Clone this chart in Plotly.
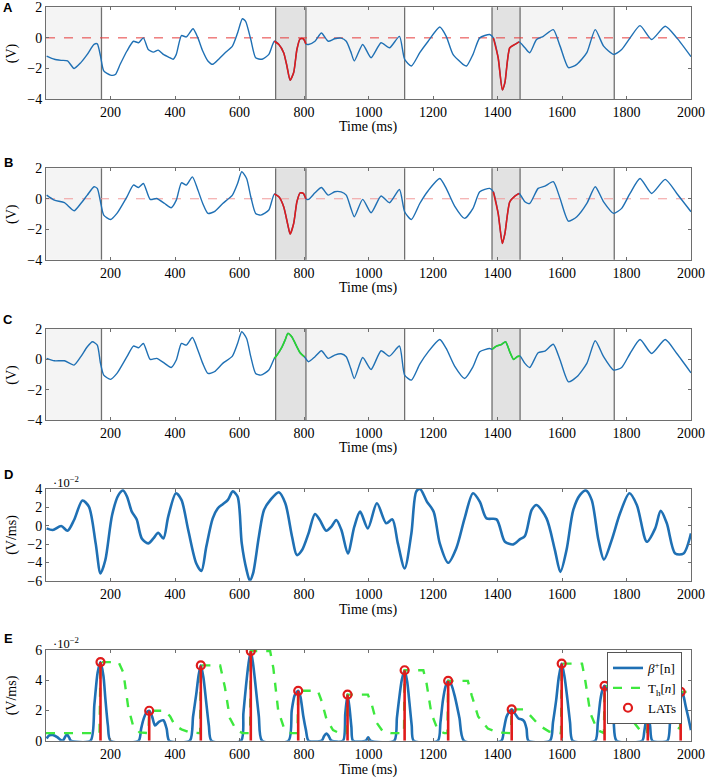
import plotly.graph_objects as go

# ------------------------------------------------------------------ data
seg_bounds = [172, 712, 806, 1112, 1383, 1470, 1762]
light_regions = [(0, 172), (806, 1112), (1470, 1762)]
window_regions = [(712, 806), (1383, 1470)]

tA = [2, 26, 47, 67, 87, 108, 128, 149, 159, 169, 179, 200, 215, 230, 251, 271, 287, 302, 317, 333,
      348, 364, 384, 394, 404, 420, 435, 456, 471, 486, 502, 517, 537, 558, 578, 594, 609, 619, 635,
      650, 670, 691, 708, 722, 737, 747, 757, 768, 778, 788, 798, 806, 814, 834, 854, 875, 895, 915,
      931, 945, 956, 982, 1008, 1039, 1065, 1096, 1112, 1133, 1159, 1185, 1221, 1241, 1262, 1293,
      1304, 1324, 1345, 1376, 1387, 1402, 1415, 1423, 1438, 1454, 1467, 1485, 1500, 1521, 1542,
      1573, 1594, 1620, 1646, 1677, 1703, 1729, 1760, 1785, 1811, 1842, 1878, 1920, 1956, 2000]
vA = [-1.19, -1.4, -1.47, -1.51, -2.0, -1.62, -1.08, -0.43, -0.39, -1.19, -2.16, -2.44, -2.4, -1.73,
      -0.86, -0.22, -0.32, 0.0, -0.76, -0.93, -0.8, -1.08, -1.3, -1.4, -1.08, 0.15, 0.06, 0.6, 0.0,
      -0.86, -1.51, -1.73, -1.36, -0.93, -0.54, 0.32, 1.25, 1.08, -0.11, -1.3, -1.4, -1.08, -0.22,
      -0.43, -0.97, -1.84, -2.77, -2.27, -0.76, -0.06, -0.06, -0.4, -0.43, -0.22, 0.32, -0.22, -0.06,
      -0.02, -0.22, -0.9, -1.51, -0.43, -1.3, -0.32, -0.65, 0.1, -1.4, -1.84, -0.97, -0.22, 0.71, 0.1,
      -1.08, -1.73, -1.84, -1.08, 0.0, 0.22, 0.0, -1.3, -3.4, -2.92, -0.65, -0.43, -0.26, -0.65, -0.97,
      -0.11, 0.1, 0.54, -0.54, -1.95, -1.73, -0.97, 0.54, -0.54, -1.08, -0.76, 0.0, 0.8, -0.11, 0.76,
      0.0, -1.23]

tB = [2, 26, 57, 87, 108, 128, 149, 159, 169, 179, 200, 220, 251, 271, 287, 302, 323, 343, 368, 388,
      404, 420, 435, 454, 471, 486, 502, 522, 548, 578, 594, 607, 622, 635, 650, 666, 691, 708, 722,
      737, 750, 757, 768, 778, 788, 798, 806, 814, 834, 854, 875, 895, 915, 931, 945, 956, 982, 1008,
      1039, 1065, 1096, 1112, 1133, 1159, 1185, 1221, 1241, 1267, 1298, 1324, 1345, 1376, 1387, 1402,
      1415, 1423, 1438, 1454, 1467, 1485, 1500, 1526, 1547, 1573, 1594, 1620, 1646, 1677, 1703, 1729,
      1760, 1785, 1811, 1842, 1878, 1920, 1956, 2000]
vB = [0.24, -0.09, -0.26, -0.79, -0.31, 0.24, 0.79, 0.68, -0.2, -1.07, -1.36, -0.96, 0.13, 0.9, 0.74,
      1.0, -0.04, 0.02, -0.31, -0.59, -0.09, 1.05, 0.9, 1.44, 0.57, -0.31, -0.96, -0.85, -0.31, 0.24,
      1.0, 1.77, 1.33, 0.13, -0.96, -1.07, -0.74, 0.31, 0.13, -0.52, -1.73, -2.32, -1.62, -0.2, 0.39,
      0.35, 0.0, -0.04, 0.39, 0.74, 0.24, 0.46, 0.45, 0.24, -0.6, -1.18, -0.04, -0.92, 0.18, -0.26,
      0.61, -0.85, -1.36, -0.31, 0.53, 1.33, 0.68, -0.48, -1.29, -0.63, 0.46, 0.68, 0.46, -0.96,
      -2.93, -2.28, -0.2, 0.18, 0.35, -0.2, -0.31, 0.68, 0.83, 1.12, 0.02, -1.47, -1.18, -0.31, 0.79,
      -0.2, -0.96, -0.63, 0.35, 1.33, 0.35, 1.27, 0.35, -0.85]

tC = [2, 26, 57, 87, 108, 128, 144, 159, 169, 179, 200, 220, 251, 271, 287, 302, 323, 343, 368, 388,
      404, 420, 435, 454, 471, 486, 502, 522, 548, 578, 594, 607, 622, 635, 650, 666, 691, 708, 716,
      732, 742, 750, 762, 778, 788, 801, 814, 834, 854, 875, 895, 915, 931, 945, 956, 982, 1008, 1039,
      1065, 1096, 1112, 1133, 1159, 1185, 1221, 1241, 1267, 1298, 1324, 1345, 1376, 1383, 1397, 1412,
      1425, 1438, 1450, 1461, 1470, 1485, 1500, 1526, 1547, 1573, 1594, 1620, 1646, 1677, 1703, 1729,
      1760, 1785, 1811, 1842, 1878, 1920, 1956, 2000]
vC = [0.07, -0.09, -0.09, -0.37, 0.18, 0.83, 1.16, 0.94, -0.26, -1.03, -1.31, -0.92, 0.18, 0.88, 0.77,
      1.05, 0.0, 0.07, -0.26, -0.53, -0.04, 1.05, 0.94, 1.44, 0.61, -0.26, -0.92, -0.81, -0.26, 0.22,
      1.05, 1.82, 1.38, 0.18, -0.92, -1.03, -0.7, 0.07, 0.28, 0.83, 1.31, 1.71, 1.49, 0.83, 0.44, 0.18,
      -0.15, 0.18, 0.57, 0.07, 0.28, 0.37, 0.18, -0.6, -1.25, 0.13, -0.66, 0.57, 0.22, 0.88, -1.03,
      -1.36, -0.31, 0.5, 1.31, 0.72, -0.44, -1.25, -0.48, 0.5, 0.72, 0.66, 0.88, 0.98, 1.16, 0.5, 0.0,
      0.18, 0.22, -0.26, -0.53, 0.44, 0.55, 1.0, -0.04, -1.47, -1.14, -0.26, 1.23, 0.18, -0.7, -0.53,
      0.39, 1.31, 0.39, 1.31, 0.39, -0.88]

# derivative (x 1e-2 V/ms)
tD = [2, 21, 47, 67, 87, 113, 133, 154, 169, 184, 205, 225, 239, 251, 266, 281, 297, 317, 333, 348,
      364, 379, 403, 420, 441, 466, 482, 497, 517, 533, 548, 564, 579, 594, 607, 622, 632, 642, 660,
      676, 696, 722, 742, 763, 778, 794, 814, 834, 849, 869, 885, 900, 916, 936, 956, 974, 998, 1026,
      1055, 1074, 1091, 1112, 1133, 1148, 1160, 1181, 1202, 1221, 1247, 1272, 1298, 1324, 1345, 1366,
      1397, 1423, 1449, 1469, 1485, 1506, 1521, 1552, 1578, 1595, 1614, 1635, 1656, 1674, 1692, 1713,
      1730, 1754, 1780, 1809, 1832, 1863, 1889, 1906, 1925, 1951, 1977, 2000]
vD = [-0.29, -0.47, -0.04, -0.55, 0.62, 2.74, 2.08, -1.93, -5.2, -3.74, 1.17, 3.36, 3.83, 3.18, 1.53,
      0.69, -1.39, -1.93, -1.39, -0.77, -1.39, 0.99, 3.54, 2.81, -0.47, -4.12, -4.93, -2.3, 0.8, 1.9,
      2.34, 2.81, 3.74, 3.18, -1.93, -4.85, -6.0, -5.2, -1.2, 1.72, 2.81, 3.65, 2.45, -1.2, -3.21,
      -2.66, -0.84, 1.28, 0.62, -0.55, -0.11, 0.62, -0.47, -3.03, -0.11, 1.53, -0.29, 2.45, 0.26, 0.69,
      -1.93, -4.67, -0.84, 3.72, 4.0, 2.63, 1.53, -1.93, -4.05, -2.48, 0.8, 3.54, 2.63, 0.8, 0.69,
      -1.75, -2.04, -1.5, -1.13, 1.72, 2.26, 0.8, -2.66, -5.04, -2.66, 1.72, 3.36, 3.83, 2.81, -1.57,
      -3.69, -1.57, 1.35, 3.54, 2.26, -1.75, -0.29, 1.61, 0.26, -3.03, -3.03, -0.84]

# beta+ (x 1e-2 V/ms)
tE = [2, 10, 21, 36, 45, 52, 58, 65, 72, 77, 138, 150, 160, 169, 178, 184, 192, 200, 287, 295, 302,
      311, 320, 329, 338, 350, 364, 374, 382, 446, 456, 466, 473, 480, 488, 497, 505, 513, 605, 612,
      620, 628, 635, 642, 650, 660, 670, 752, 762, 771, 782, 789, 798, 806, 814, 855, 862, 870, 877,
      885, 921, 928, 935, 941, 947, 952, 992, 999, 1006, 1080, 1088, 1094, 1103, 1112, 1120, 1127,
      1134, 1140, 1215, 1223, 1231, 1239, 1247, 1257, 1268, 1282, 1296, 1412, 1420, 1428, 1436, 1444,
      1454, 1465, 1474, 1482, 1490, 1496, 1563, 1572, 1582, 1590, 1599, 1608, 1617, 1625, 1633, 1703,
      1711, 1719, 1726, 1732, 1740, 1750, 1760, 1769, 1849, 1855, 1859, 1866, 1873, 1880, 1927, 1935,
      1942, 1955, 1968, 1976, 1984, 1992, 2000]
vE = [0.15, 0.35, 0.38, 0.22, 0.05, 0.0, 0.2, 0.42, 0.2, 0.0, 0.0, 2.4, 4.5, 5.2, 4.3, 2.8, 1.0, 0.0,
      0.0, 0.8, 1.4, 1.85, 1.98, 1.6, 1.0, 1.25, 1.35, 0.8, 0.0, 0.0, 1.6, 3.1, 4.3, 4.98, 4.2, 2.5,
      1.0, 0.0, 0.0, 1.8, 3.6, 5.1, 5.93, 5.1, 3.6, 1.6, 0.0, 0.0, 2.0, 3.0, 3.3, 2.9, 1.6, 0.7, 0.0,
      0.0, 0.3, 0.48, 0.3, 0.0, 0.0, 1.8, 3.05, 2.2, 0.9, 0.0, 0.0, 0.22, 0.0, 0.0, 1.5, 2.6, 4.0,
      4.66, 3.9, 2.5, 1.0, 0.0, 0.0, 1.2, 2.7, 3.6, 3.96, 3.7, 2.9, 1.5, 0.0, 0.0, 0.8, 1.58, 1.9,
      2.07, 1.8, 1.47, 1.42, 1.3, 0.8, 0.0, 0.0, 1.2, 2.7, 4.2, 5.1, 4.2, 2.7, 1.2, 0.0, 0.0, 1.2,
      2.7, 3.4, 3.63, 3.4, 2.6, 1.3, 0.0, 0.0, 0.6, 1.14, 1.69, 1.0, 0.0, 0.0, 1.2, 2.24, 3.0, 3.23,
      3.0, 2.24, 1.5, 0.7]

# adaptive threshold T_h[n] (x 1e-2 V/ms)
tTh = [0, 166, 169, 225, 240, 255, 270, 290, 318, 320, 370, 385, 400, 420, 445, 478, 480, 540, 555,
       570, 590, 610, 633, 635, 695, 705, 720, 740, 760, 780, 782, 843, 855, 870, 890, 910, 933, 935,
       998, 1010, 1025, 1045, 1070, 1110, 1112, 1170, 1180, 1195, 1215, 1235, 1245, 1247, 1308, 1320,
       1340, 1370, 1400, 1442, 1444, 1480, 1500, 1530, 1560, 1597, 1599, 1662, 1672, 1688, 1710, 1730,
       1732, 1785, 1800, 1820, 1845, 1864, 1866, 1920, 1935, 1950, 1966, 1968, 2000]
vTh = [0.5, 0.5, 5.2, 5.2, 4.5, 2.2, 1.0, 0.55, 0.5, 1.98, 1.98, 1.6, 1.0, 0.75, 0.55, 0.5, 4.98,
       4.98, 3.5, 1.5, 0.7, 0.5, 0.5, 5.93, 5.93, 4.8, 2.0, 0.7, 0.5, 0.5, 3.3, 3.3, 2.6, 1.4, 0.7,
       0.5, 0.5, 3.05, 3.05, 2.4, 1.2, 0.6, 0.5, 0.5, 4.66, 4.66, 3.8, 1.8, 0.7, 0.5, 0.5, 3.96, 3.96,
       3.0, 1.6, 0.8, 0.55, 0.5, 2.07, 2.07, 1.7, 1.0, 0.6, 0.5, 5.1, 5.1, 4.0, 1.8, 0.7, 0.5, 3.63,
       3.63, 2.6, 1.3, 0.6, 0.5, 1.69, 1.69, 1.3, 0.9, 0.8, 3.23, 3.23]

lat_t = [169, 320, 480, 635, 782, 935, 1112, 1247, 1444, 1599, 1732, 1866, 1968]
lat_v = [5.2, 1.98, 4.98, 5.93, 3.3, 3.05, 4.66, 3.96, 2.07, 5.1, 3.63, 1.69, 3.23]

x_ticks = [200, 400, 600, 800, 1000, 1200, 1400, 1600, 1800, 2000]

# ------------------------------------------------------------------ styling
W, H = 708, 782
ML, MR = 46, 17
BLUE = "#1f70b4"
RED = "#e01b1b"
GREEN = "#2bd62b"
TGREEN = "#3ee83e"
FRAME = "#6e6e6e"
SERIF = "Liberation Serif, Times New Roman, serif"
SANS = "Liberation Sans, Arial, sans-serif"

panel_px = [(7.3, 99.0), (168.3, 259.7), (329.0, 420.3), (489.0, 580.7), (650.0, 740.7)]


def ydom(top, bot):
    return [1 - bot / H, 1 - top / H]


def px_x(px):
    return (px - ML) / (W - ML - MR)


def px_y(py):
    return 1 - py / H


fig = go.Figure()
shapes = []
annotations = []


def axis_names(i):
    s = "" if i == 1 else str(i)
    return "x" + s, "y" + s


def add_signal_panel(i, t, v, win_color, zero_color):
    xa, ya = axis_names(i)
    for lo, hi in light_regions:
        shapes.append(dict(type="rect", xref=xa, yref=ya + " domain", x0=lo, x1=hi, y0=0, y1=1,
                           fillcolor="#f4f4f4", line_width=0, layer="below"))
    for lo, hi in window_regions:
        shapes.append(dict(type="rect", xref=xa, yref=ya + " domain", x0=lo, x1=hi, y0=0, y1=1,
                           fillcolor="#e2e2e2", line_width=0, layer="below"))
    for b in seg_bounds:
        shapes.append(dict(type="line", xref=xa, yref=ya + " domain", x0=b, x1=b, y0=0, y1=1,
                           line=dict(color="#707070", width=1.3), layer="below"))
    if zero_color:
        fig.add_trace(go.Scatter(x=[0, 2000], y=[0, 0], mode="lines", xaxis=xa, yaxis=ya,
                                 line=dict(color=zero_color, width=1, dash="dash"),
                                 showlegend=False, hoverinfo="skip"))
    fig.add_trace(go.Scatter(x=t, y=v, mode="lines", xaxis=xa, yaxis=ya,
                             line=dict(color=BLUE, width=1.4, shape="spline", smoothing=0.6),
                             showlegend=False))
    for lo, hi in window_regions:
        idx = [k for k, tt in enumerate(t) if lo - 6 <= tt <= hi + 1]
        fig.add_trace(go.Scatter(x=[t[k] for k in idx], y=[v[k] for k in idx], mode="lines",
                                 xaxis=xa, yaxis=ya,
                                 line=dict(color=win_color, width=1.6, shape="spline", smoothing=0.6),
                                 showlegend=False))


add_signal_panel(1, tA, vA, RED, "#e63c3c")
add_signal_panel(2, tB, vB, RED, "#f29a9a")
add_signal_panel(3, tC, vC, GREEN, None)

# D
fig.add_trace(go.Scatter(x=tD, y=vD, mode="lines", xaxis="x4", yaxis="y4",
                         line=dict(color=BLUE, width=2.6, shape="spline", smoothing=0.8),
                         showlegend=False))

# E
fig.add_trace(go.Scatter(x=tE, y=vE, mode="lines", xaxis="x5", yaxis="y5",
                         line=dict(color=BLUE, width=2.6, shape="spline", smoothing=0.7),
                         name="<i>β</i><sup>+</sup>[n]"))
fig.add_trace(go.Scatter(x=tTh, y=vTh, mode="lines", xaxis="x5", yaxis="y5",
                         line=dict(color=TGREEN, width=2.4, dash="dash"),
                         name="T<sub>h</sub>[<i>n</i>]"))
stem_x, stem_y = [], []
for tt, vv in zip(lat_t, lat_v):
    stem_x += [tt, tt, None]
    stem_y += [0, vv, None]
fig.add_trace(go.Scatter(x=stem_x, y=stem_y, mode="lines", xaxis="x5", yaxis="y5",
                         line=dict(color=RED, width=2.6), showlegend=False, hoverinfo="skip"))
fig.add_trace(go.Scatter(x=lat_t, y=lat_v, mode="markers", xaxis="x5", yaxis="y5",
                         marker=dict(symbol="circle-open", color=RED, size=8, line=dict(width=2.2)),
                         name="LATs"))

# ------------------------------------------------------------------ axes
layout = dict(width=W, height=H, margin=dict(l=ML, r=MR, t=0, b=0, pad=0),
              autosize=False,
              paper_bgcolor="white", plot_bgcolor="white",
              font=dict(family=SERIF, size=14, color="black"),
              showlegend=True,
              legend=dict(x=px_x(607), y=px_y(652), xanchor="left", yanchor="top",
                          bgcolor="white", bordercolor="#555555", borderwidth=1,
                          font=dict(family=SERIF, size=13), itemwidth=30,
                          tracegroupgap=0))

y_specs = [
    dict(range=[-4, 2], tickvals=[-4, -2, 0, 2]),
    dict(range=[-4, 2], tickvals=[-4, -2, 0, 2]),
    dict(range=[-4, 2], tickvals=[-4, -2, 0, 2]),
    dict(range=[-6, 4], tickvals=[-6, -4, -2, 0, 2, 4]),
    dict(range=[0, 6], tickvals=[0, 2, 4, 6]),
]
ytitles = ["(V)", "(V)", "(V)", "(V/ms)", "(V/ms)"]
xtitle_py = [127, 288, 448, 610, 770]
letters = ["A", "B", "C", "D", "E"]
letter_py = [8, 162, 320, 475, 638]

for i in range(1, 6):
    xa, ya = axis_names(i)
    xkey = "xaxis" if i == 1 else "xaxis%d" % i
    ykey = "yaxis" if i == 1 else "yaxis%d" % i
    top, bot = panel_px[i - 1]
    common = dict(showline=True, linecolor=FRAME, linewidth=1, mirror="allticks",
                  ticks="inside", ticklen=3, tickcolor=FRAME, showgrid=False, zeroline=False,
                  tickfont=dict(family=SERIF, size=14), ticklabeloverflow="allow",
                  automargin=False)
    layout[xkey] = dict(domain=[0, 1], range=[0, 2000], tickvals=x_ticks, anchor=ya, **common)
    layout[ykey] = dict(domain=ydom(top, bot), anchor=xa, **y_specs[i - 1], **common)
    annotations.append(dict(text="Time (ms)", xref="paper", yref="paper", x=0.5,
                            y=px_y(xtitle_py[i - 1]), xanchor="center", yanchor="middle",
                            showarrow=False, font=dict(family=SERIF, size=14)))
    annotations.append(dict(text=ytitles[i - 1], xref="paper", yref="paper", x=px_x(12),
                            y=px_y((top + bot) / 2), xanchor="center", yanchor="middle",
                            textangle=-90, showarrow=False, font=dict(family=SERIF, size=14)))
    annotations.append(dict(text="<b>%s</b>" % letters[i - 1], xref="paper", yref="paper",
                            x=px_x(8), y=px_y(letter_py[i - 1]), xanchor="center",
                            yanchor="middle", showarrow=False, font=dict(family=SANS, size=13)))

for py in [482, 643]:
    annotations.append(dict(text="·10<sup>−2</sup>", xref="paper", yref="paper",
                            x=px_x(51), y=px_y(py), xanchor="left", yanchor="middle",
                            showarrow=False, font=dict(family=SERIF, size=12.5)))

layout["shapes"] = shapes
layout["annotations"] = annotations
fig.update_layout(**layout)
fig.write_html("out.html", config=dict(displayModeBar=False),
               post_script="document.body.style.margin='0';document.body.style.overflow='hidden';")
